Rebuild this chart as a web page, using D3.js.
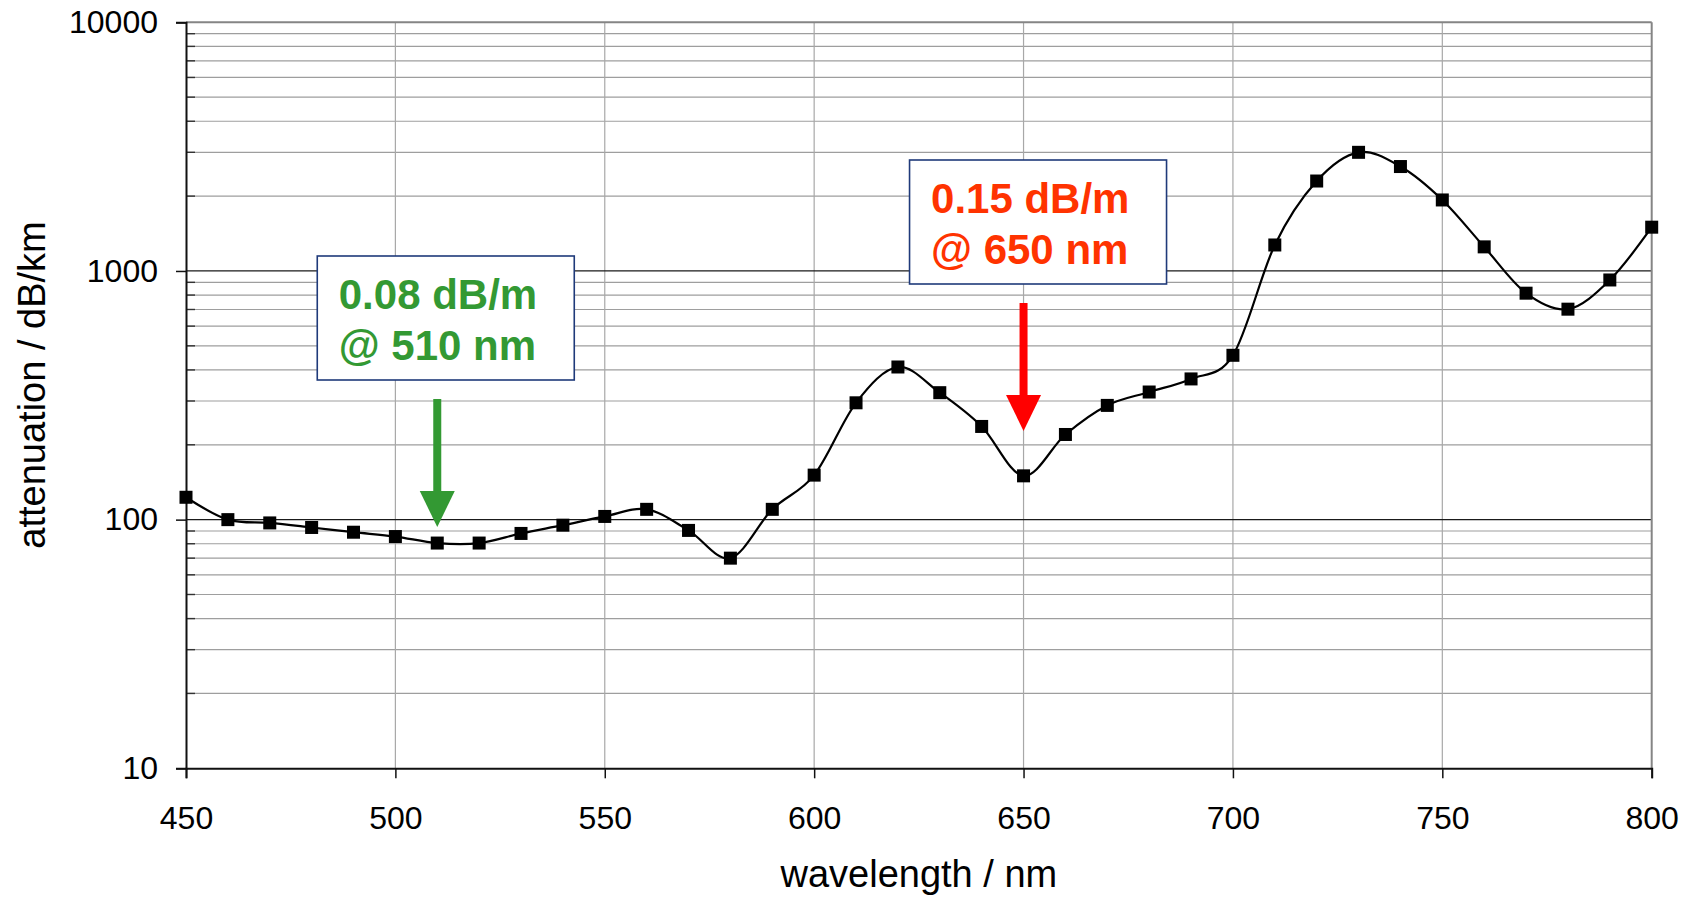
<!DOCTYPE html>
<html>
<head>
<meta charset="utf-8">
<title>Attenuation spectrum</title>
<script src="https://cdn.jsdelivr.net/npm/d3@7"></script>
<style>
  html, body { margin: 0; padding: 0; background: #ffffff; }
  svg { display: block; font-family: "Liberation Sans", Arial, "DejaVu Sans", sans-serif; }
</style>
</head>
<body>
<svg id="chart" width="1701" height="897"></svg>
<script>
// Measured attenuation of the fibre, one point every 10 nm
const wavelengths = [450, 460, 470, 480, 490, 500, 510, 520, 530, 540, 550, 560,
                     570, 580, 590, 600, 610, 620, 630, 640, 650, 660, 670, 680,
                     690, 700, 710, 720, 730, 740, 750, 760, 770, 780, 790, 800];
const attenuation = [123, 100, 97, 93, 89, 85.5, 80.5, 80.5, 88, 95, 103, 110,
                     90.5, 70, 110, 151, 295, 411, 324, 237, 150, 220, 288, 326,
                     368, 458, 1272, 2300, 3000, 2630, 1930, 1250, 814, 702, 920, 1500];

// Axis ticks
const xTicks = [450, 500, 550, 600, 650, 700, 750, 800];
const yTicks = [10, 100, 1000, 10000];

// Axis titles
const xTitle = "wavelength / nm";
const yTitle = "attenuation / dB/km";

// Highlighted transmission windows
const calloutWavelengths = [510, 650];
const calloutLines = [["0.08 dB/m", "@ 510 nm"], ["0.15 dB/m", "@ 650 nm"]];

const svg = d3.select("#chart");
const W = 1701, H = 897;
const margin = { top: 22.3, right: 49.3, bottom: 128.7, left: 186 };
const plotW = W - margin.left - margin.right;
const plotH = H - margin.top - margin.bottom;

const x = d3.scaleLinear().domain([450, 800]).range([margin.left, margin.left + plotW]);
const y = d3.scaleLog().domain([10, 10000]).range([margin.top + plotH, margin.top]);

const x0 = x.range()[0], x1 = x.range()[1];
const yBottom = y.range()[0], yTop = y.range()[1];

// Minor horizontal grid (2..9 within each decade)
const minorVals = y.ticks().filter(v => !yTicks.includes(v));
svg.append("g").selectAll("line").data(minorVals).join("line")
  .attr("x1", x0).attr("x2", x1)
  .attr("y1", d => y(d)).attr("y2", d => y(d))
  .attr("stroke", "#9e9e9e").attr("stroke-width", 1.2);

// Vertical grid
svg.append("g").selectAll("line").data(xTicks.slice(1, -1)).join("line")
  .attr("x1", d => x(d)).attr("x2", d => x(d))
  .attr("y1", yTop).attr("y2", yBottom)
  .attr("stroke", "#a8a8a8").attr("stroke-width", 1.2);

// Major horizontal grid (decades)
svg.append("g").selectAll("line").data([100, 1000]).join("line")
  .attr("x1", x0).attr("x2", x1)
  .attr("y1", d => y(d)).attr("y2", d => y(d))
  .attr("stroke", "#1a1a1a").attr("stroke-width", 1.3);

// Plot frame: top and right in grey
svg.append("line").attr("x1", x0).attr("x2", x1).attr("y1", yTop).attr("y2", yTop)
  .attr("stroke", "#858585").attr("stroke-width", 2);
svg.append("line").attr("x1", x1).attr("x2", x1).attr("y1", yTop).attr("y2", yBottom)
  .attr("stroke", "#858585").attr("stroke-width", 2);

// Inward minor ticks on the y axis
svg.append("g").selectAll("line").data(minorVals).join("line")
  .attr("x1", x0).attr("x2", x0 + 9)
  .attr("y1", d => y(d)).attr("y2", d => y(d))
  .attr("stroke", "#333").attr("stroke-width", 1.4);

// Y axis
const yAxis = d3.axisLeft(y).tickValues(yTicks).tickFormat(d3.format("d"))
  .tickSize(10).tickPadding(18);
const gy = svg.append("g").attr("transform", `translate(${x0},0)`).call(yAxis);
gy.select(".domain").attr("stroke", "#111").attr("stroke-width", 2);
gy.selectAll(".tick line").attr("stroke", "#111").attr("stroke-width", 1.5);
gy.selectAll(".tick text").attr("font-size", 32).attr("fill", "#000")
  .attr("font-family", "Liberation Sans, Arial, sans-serif")
  .attr("dy", "0.32em");

// X axis
const xAxis = d3.axisBottom(x).tickValues(xTicks).tickFormat(d3.format("d"))
  .tickSize(10).tickPadding(0);
const gx = svg.append("g").attr("transform", `translate(0,${yBottom})`).call(xAxis);
gx.select(".domain").attr("stroke", "#111").attr("stroke-width", 2);
gx.selectAll(".tick line").attr("stroke", "#111").attr("stroke-width", 1.5);
gx.selectAll(".tick text").attr("font-size", 32).attr("fill", "#000")
  .attr("font-family", "Liberation Sans, Arial, sans-serif")
  .attr("dy", null).attr("y", 60.5);

// Axis titles
svg.append("text").attr("x", (x0 + x1) / 2).attr("y", 887)
  .attr("text-anchor", "middle").attr("font-size", 38).attr("fill", "#000")
  .text(xTitle);
svg.append("text").attr("transform", `translate(45,385) rotate(-90)`)
  .attr("text-anchor", "middle").attr("font-size", 38).attr("fill", "#000")
  .text(yTitle);

// Smoothed attenuation curve
const points = wavelengths.map((w, i) => [w, attenuation[i]]);
const line = d3.line()
  .x(d => x(d[0])).y(d => y(d[1]))
  .curve(d3.curveCardinal.tension(0));
svg.append("path").datum(points)
  .attr("d", line).attr("fill", "none")
  .attr("stroke", "#000").attr("stroke-width", 2.2);

// Square markers
const ms = 13;
svg.append("g").selectAll("rect").data(points).join("rect")
  .attr("x", d => x(d[0]) - ms / 2).attr("y", d => y(d[1]) - ms / 2)
  .attr("width", ms).attr("height", ms).attr("fill", "#000");

// Callouts: framed label with an arrow pointing down to the wavelength
const calloutStyle = [
  { text: "#339933", arrow: "#339933", boxTop: 256, boxLeft: -120 },
  { text: "#ff3300", arrow: "#ff0000", boxTop: 160, boxLeft: -114 }
];
const boxW = 257, boxH = 124;
calloutWavelengths.forEach((wl, i) => {
  const st = calloutStyle[i];
  const ax = x(wl);
  const bx = ax + st.boxLeft, by = st.boxTop;
  const g = svg.append("g");
  g.append("rect").attr("x", bx).attr("y", by).attr("width", boxW).attr("height", boxH)
    .attr("fill", "#fff").attr("stroke", "#1f3a7a").attr("stroke-width", 1.6);
  calloutLines[i].forEach((t, j) => {
    g.append("text").attr("x", bx + 21.5).attr("y", by + 52.5 + j * 51)
      .attr("font-size", 42).attr("font-weight", "bold").attr("fill", st.text)
      .text(t);
  });
  const shaftTop = by + boxH + 19, headTop = by + boxH + 111, tip = by + boxH + 147;
  g.append("rect").attr("x", ax - 4).attr("y", shaftTop).attr("width", 8)
    .attr("height", headTop - shaftTop + 1).attr("fill", st.arrow);
  g.append("path")
    .attr("d", `M${ax - 17.5},${headTop} L${ax + 17.5},${headTop} L${ax},${tip} Z`)
    .attr("fill", st.arrow);
});
</script>
</body>
</html>
